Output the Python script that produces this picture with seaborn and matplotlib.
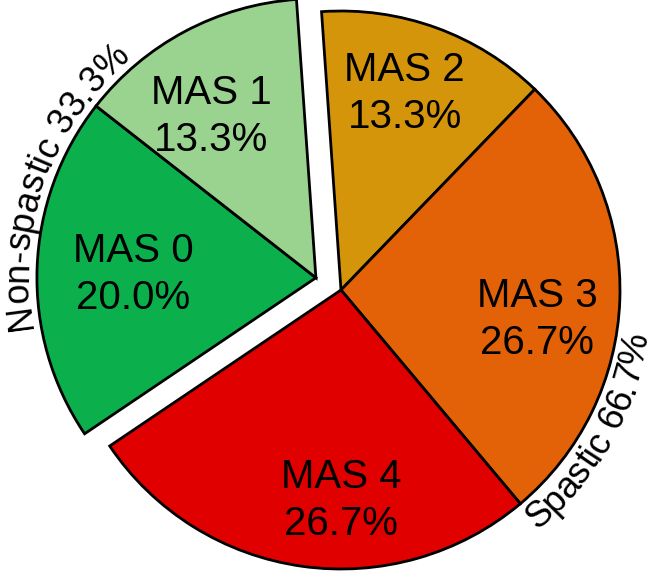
import numpy as np
import matplotlib
matplotlib.use("Agg")
import matplotlib.pyplot as plt
import seaborn as sns
from matplotlib import font_manager
from matplotlib.ft2font import FT2Font

# Data: number of participants per Modified Ashworth Scale grade (n = 15)
spastic_grades = ["MAS 2", "MAS 3", "MAS 4"]
spastic_counts = [2, 4, 4]
nonspastic_grades = ["MAS 0", "MAS 1"]
nonspastic_counts = [3, 2]
group_names = ["Spastic", "Non-spastic"]

spastic_colors = ["#D4950B", "#E36207", "#E00000"]
nonspastic_colors = ["#0BB04C", "#9AD28F"]

# where each wedge label sits: (fraction of radius, angle in degrees)
spastic_label_pos = [(0.74, 72), (0.71, -8.5), (0.755, -90)]
nonspastic_label_pos = [(0.656, 179), (0.69, 123)]

total = sum(spastic_counts) + sum(nonspastic_counts)
sp_frac = np.array(spastic_counts) / total
ns_frac = np.array(nonspastic_counts) / total

sns.set_theme(style="white")
plt.rcParams['font.family'] = ['Liberation Sans', 'DejaVu Sans']

DPI = 100
W, H = 656, 572
fig = plt.figure(figsize=(W / DPI, H / DPI), dpi=DPI)
ax = fig.add_axes([0, 0, 1, 1])

# geometry in pixel units
cx, cy = 341, 282
R = 279
start = 94
explode = 0.1
label_fs = 29
group_fs = 26
wedge_kw = dict(edgecolor="black", linewidth=2)

# spastic group
ax.pie(sp_frac, normalize=False, startangle=start, counterclock=False,
       center=(cx, cy), radius=R, colors=spastic_colors, wedgeprops=wedge_kw)

# non-spastic group, pulled out as one block
ns_start = start - 360 * sp_frac.sum()
ns_mid = np.deg2rad(ns_start - 180 * ns_frac.sum())
ncx = cx + explode * R * np.cos(ns_mid)
ncy = cy + explode * R * np.sin(ns_mid)
ax.pie(ns_frac, normalize=False, startangle=ns_start, counterclock=False,
       center=(ncx, ncy), radius=R, colors=nonspastic_colors, wedgeprops=wedge_kw)


def wedge_labels(grades, fracs, where, centre):
    for g, f, (d, a) in zip(grades, fracs, where):
        x = centre[0] + d * R * np.cos(np.deg2rad(a))
        y = centre[1] + d * R * np.sin(np.deg2rad(a))
        ax.text(x, y, f"{g}\n{f * 100:.1f}%", fontsize=label_fs, ha="center",
                va="center", linespacing=1.3, color="black")


wedge_labels(spastic_grades, sp_frac, spastic_label_pos, (cx, cy))
wedge_labels(nonspastic_grades, ns_frac, nonspastic_label_pos, (ncx, ncy))


def arc_text(text, centre, r, mid_deg, clockwise, fs):
    fp = font_manager.FontProperties(family="Liberation Sans", size=fs)
    font = FT2Font(font_manager.findfont(fp), hinting_factor=1)
    font.set_size(fs, DPI)
    adv = np.array([font.load_char(ord(ch)).linearHoriAdvance / 65536.0 for ch in text])
    width = adv.sum()
    pos = np.cumsum(adv) - adv / 2 - width / 2
    sign = -1 if clockwise else 1
    for ch, d in zip(text, pos):
        ang = mid_deg + sign * np.rad2deg(d / r)
        rot = ang - 90 if clockwise else ang + 90
        x = centre[0] + r * np.cos(np.deg2rad(ang))
        y = centre[1] + r * np.sin(np.deg2rad(ang))
        ax.text(x, y, ch, fontsize=fs, rotation=rot, rotation_mode="anchor",
                ha="center", va="baseline", color="black")


sp_pct = sp_frac.sum() * 100
ns_pct = ns_frac.sum() * 100
arc_text(f"{group_names[1]} {ns_pct:.1f}%", (ncx, ncy), R + 9, 160, True, group_fs)
arc_text(f"{group_names[0]} {sp_pct:.1f}%", (cx, cy), R + 31, -29.5, False, group_fs)

ax.set_xlim(0, W)
ax.set_ylim(0, H)
ax.set_aspect("equal")
ax.axis("off")

fig.savefig("out.png", dpi=DPI)
